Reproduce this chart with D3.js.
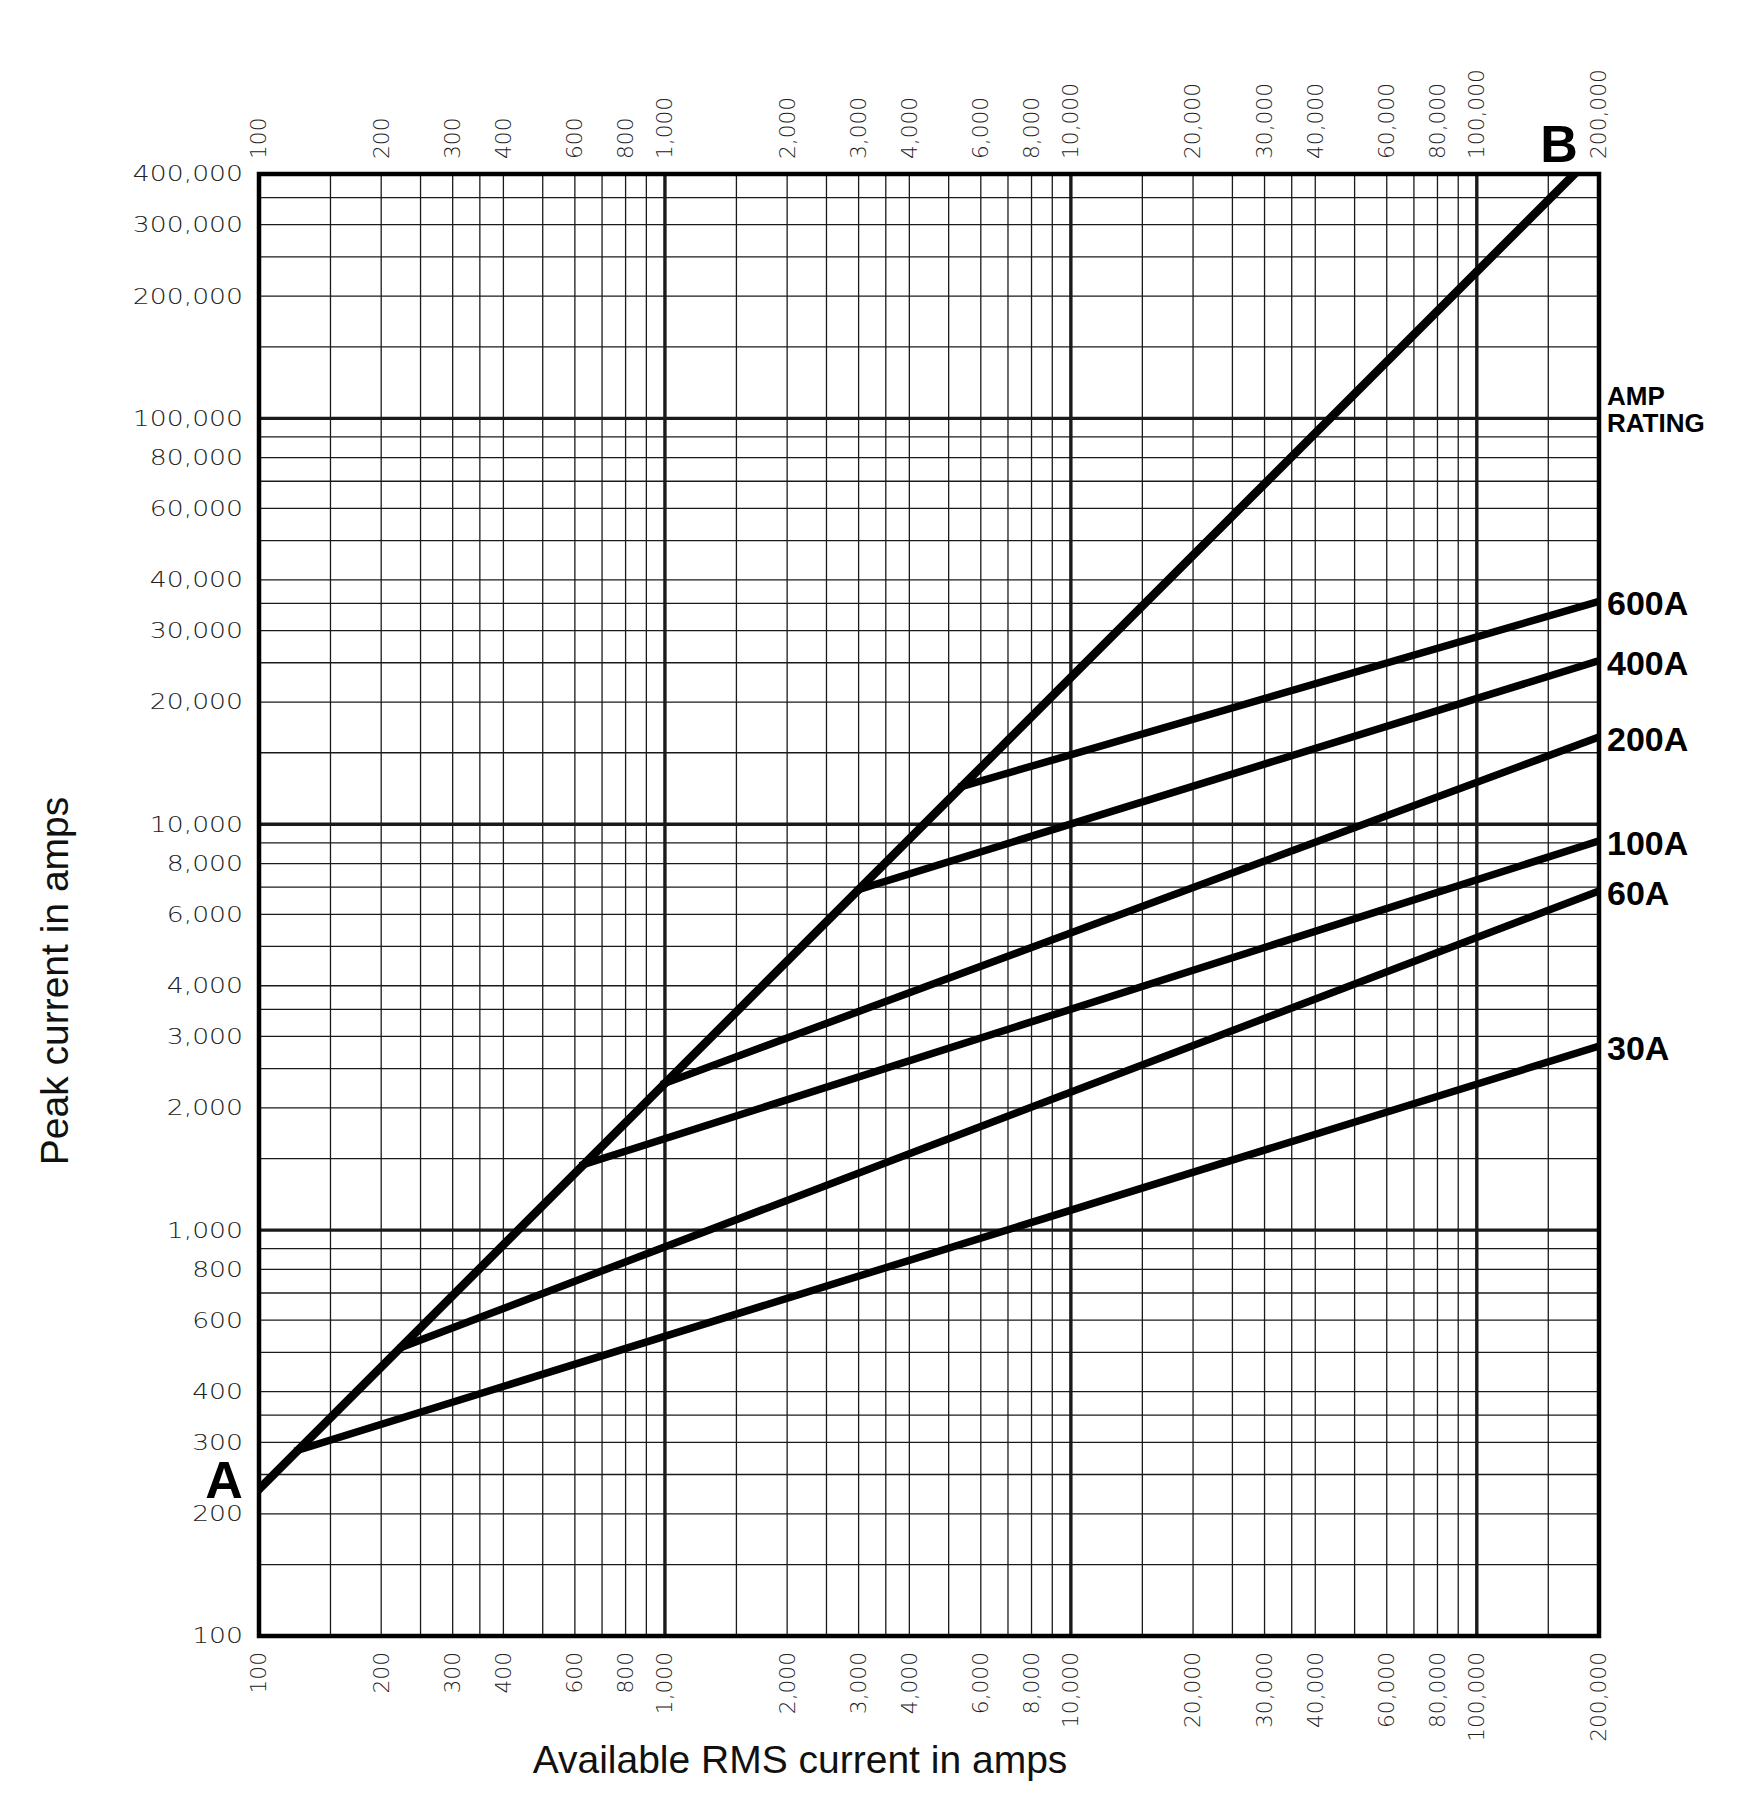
<!DOCTYPE html>
<meta charset="utf-8">
<style>
  body { margin: 0; background: #fff; }
</style>
<body>
<script src="https://d3js.org/d3.v7.min.js"></script>
<script>

// chart values
var xTicks = [100, 200, 300, 400, 600, 800, 1000, 2000, 3000, 4000, 6000, 8000,
              10000, 20000, 30000, 40000, 60000, 80000, 100000, 200000];
var yTicks = [100, 200, 300, 400, 600, 800, 1000, 2000, 3000, 4000, 6000, 8000,
              10000, 20000, 30000, 40000, 60000, 80000, 100000, 200000, 300000, 400000];
var decades = [100, 1000, 10000, 100000];
var gridSteps = [1, 1.5, 2, 2.5, 3, 3.5, 4, 5, 6, 7, 8, 9];
var majorLines = [1000, 10000, 100000];

// A-B line (peak = 2.3 x RMS)
var abRms  = [100, 174000];
var abPeak = [230, 400000];

// fuse let-through lines: start on A-B, end on right edge
var ratings   = ['600A', '400A', '200A', '100A', '60A', '30A'];
var startRms  = [5400, 3000, 1000, 630, 225, 125];
var startPeak = [12400, 6900, 2300, 1450, 515, 287];
var endRms    = [200000, 200000, 200000, 200000, 200000, 200000];
var endPeak   = [35400, 25300, 16400, 9100, 6850, 2840];

var W = 1748, H = 1814;
var svg = d3.select('body').append('svg')
    .attr('width', W)
    .attr('height', H);

var x = d3.scaleLog().domain([100, 200000]).range([259, 1599]);
var y = d3.scaleLog().domain([100, 400000]).range([1636, 174]);

var gridVals = (max) => {
  var out = [];
  decades.forEach(d => gridSteps.forEach(s => { if (d*s <= max) out.push(d*s); }));
  return out;
};

var grid = svg.append('g');
grid.selectAll('.gx').data(gridVals(200000)).enter().append('line')
    .attr('x1', d => x(d)).attr('x2', d => x(d))
    .attr('y1', y(400000)).attr('y2', y(100))
    .attr('stroke', '#1a1a1a')
    .attr('stroke-width', d => majorLines.indexOf(d) >= 0 ? 3.4 : 1.3);
grid.selectAll('.gy').data(gridVals(400000)).enter().append('line')
    .attr('y1', d => y(d)).attr('y2', d => y(d))
    .attr('x1', x(100)).attr('x2', x(200000))
    .attr('stroke', '#1a1a1a')
    .attr('stroke-width', d => majorLines.indexOf(d) >= 0 ? 3.4 : 1.3);

svg.append('rect')
    .attr('x', x(100)).attr('y', y(400000))
    .attr('width', x(200000) - x(100))
    .attr('height', y(100) - y(400000))
    .attr('fill', 'none')
    .attr('stroke', '#000')
    .attr('stroke-width', 4.5);

svg.append('clipPath').attr('id', 'plot')
  .append('rect')
    .attr('x', x(100)).attr('y', y(400000))
    .attr('width', x(200000) - x(100))
    .attr('height', y(100) - y(400000));

var lines = svg.append('g').attr('clip-path', 'url(#plot)');
lines.append('line')
    .attr('x1', x(abRms[0])).attr('y1', y(abPeak[0]))
    .attr('x2', x(abRms[1])).attr('y2', y(abPeak[1]))
    .attr('stroke', '#000')
    .attr('stroke-width', 8.5)
    .attr('stroke-linecap', 'square');

lines.selectAll('.fuse').data(ratings).enter().append('line')
    .attr('x1', (d, i) => x(startRms[i])).attr('y1', (d, i) => y(startPeak[i]))
    .attr('x2', (d, i) => x(endRms[i])).attr('y2', (d, i) => y(endPeak[i]))
    .attr('stroke', '#000')
    .attr('stroke-width', 7.5)
    .attr('stroke-linecap', 'square');

// tick labels (thin, wide CAD-like lettering)
var tickFont = 'DejaVu Sans';
var tickLabel = (sel) => sel
    .text(d => d3.format(',')(d))
    .attr('dy', '0.36em')
    .attr('font-family', tickFont)
    .attr('font-weight', 200)
    .attr('font-size', 20.5)
    .attr('fill', '#222');

svg.selectAll('.ylab').data(yTicks).enter().append('text')
    .call(tickLabel)
    .attr('transform', d => `translate(243,${y(d)}) scale(1.3,1)`)
    .attr('text-anchor', 'end');

svg.selectAll('.xtop').data(xTicks).enter().append('text')
    .call(tickLabel)
    .attr('transform', d => `translate(${x(d)},159) rotate(-90) scale(1.06,1)`)
    .attr('text-anchor', 'start');

svg.selectAll('.xbot').data(xTicks).enter().append('text')
    .call(tickLabel)
    .attr('transform', d => `translate(${x(d)},1652) rotate(-90) scale(1.06,1)`)
    .attr('text-anchor', 'end');

// rating labels at the right edge
svg.selectAll('.rating').data(ratings).enter().append('text')
    .text(d => d)
    .attr('x', 1607)
    .attr('y', (d, i) => y(endPeak[i]) + 14)
    .attr('font-family', 'Liberation Sans, Arial, sans-serif')
    .attr('font-weight', 'bold')
    .attr('font-size', 34)
    .attr('fill', '#000');

var amp = svg.append('text')
    .attr('font-family', 'Liberation Sans, Arial, sans-serif')
    .attr('font-weight', 'bold')
    .attr('font-size', 26)
    .attr('fill', '#000');
amp.append('tspan').attr('x', 1607).attr('y', 405).text('AMP');
amp.append('tspan').attr('x', 1607).attr('y', 432).text('RATING');

// A and B markers
svg.append('text')
    .text('A')
    .attr('x', 224).attr('y', 1498)
    .attr('text-anchor', 'middle')
    .attr('font-family', 'Liberation Sans, Arial, sans-serif')
    .attr('font-weight', 'bold')
    .attr('font-size', 52);
svg.append('text')
    .text('B')
    .attr('x', 1559).attr('y', 162)
    .attr('text-anchor', 'middle')
    .attr('font-family', 'Liberation Sans, Arial, sans-serif')
    .attr('font-weight', 'bold')
    .attr('font-size', 52);

// axis titles
svg.append('text')
    .text('Available RMS current in amps')
    .attr('x', 800).attr('y', 1773)
    .attr('text-anchor', 'middle')
    .attr('font-family', 'Liberation Sans, Arial, sans-serif')
    .attr('font-size', 39)
    .attr('fill', '#111');
svg.append('text')
    .text('Peak current in amps')
    .attr('transform', 'translate(68,981) rotate(-90)')
    .attr('text-anchor', 'middle')
    .attr('font-family', 'Liberation Sans, Arial, sans-serif')
    .attr('font-size', 39)
    .attr('fill', '#111');

</script>
</body>
</html>
